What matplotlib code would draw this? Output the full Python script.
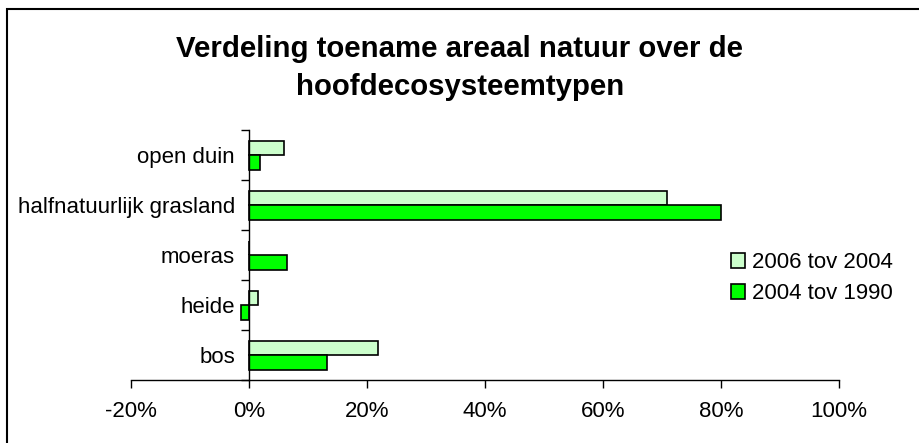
import matplotlib
matplotlib.use("Agg")
import matplotlib.pyplot as plt
from matplotlib.patches import Rectangle
from matplotlib.ticker import FixedLocator, FuncFormatter
import numpy as np

plt.rcParams['font.family'] = ['Liberation Sans', 'DejaVu Sans']

# Ecosystem types, listed bottom to top
categories = ["bos", "heide", "moeras", "halfnatuurlijk grasland", "open duin"]
series_labels = ["2006 tov 2004", "2004 tov 1990"]
# Share of the increase in nature area (fractions)
increase_2006_vs_2004 = [0.219, 0.015, 0.0, 0.709, 0.059]
increase_2004_vs_1990 = [0.133, -0.014, 0.064, 0.800, 0.018]
x_ticks = [-0.2, 0.0, 0.2, 0.4, 0.6, 0.8, 1.0]

fig = plt.figure(figsize=(9.2, 4.43), dpi=100)
ax = fig.add_axes([131 / 920, 1 - 380 / 443, (839 - 131) / 920, (380 - 130) / 443])

y = np.arange(len(categories))
h = 0.29
ax.barh(y + h / 2, increase_2006_vs_2004, height=h, color="#CCFFCC",
        edgecolor="black", linewidth=1.2, label=series_labels[0])
ax.barh(y - h / 2, increase_2004_vs_1990, height=h, color="#00FF00",
        edgecolor="black", linewidth=1.2, label=series_labels[1])

ax.set_xlim(x_ticks[0], x_ticks[-1])
ax.set_ylim(-0.5, len(categories) - 0.5)

# Axes styling
for side in ("top", "right"):
    ax.spines[side].set_visible(False)
ax.spines["left"].set_position(("data", 0))
ax.spines["left"].set_linewidth(1.0)
ax.spines["bottom"].set_linewidth(1.0)

ax.set_xticks(x_ticks)
ax.xaxis.set_major_formatter(FuncFormatter(lambda v, _: f"{v * 100:.0f}%".replace("\u2212", "-")))
ax.tick_params(axis="x", direction="out", length=6, width=1, labelsize=16, pad=9)

ax.yaxis.set_major_locator(FixedLocator(np.arange(-0.5, len(categories), 1.0)))
ax.yaxis.set_major_formatter(plt.NullFormatter())
ax.yaxis.set_minor_locator(FixedLocator(y))
ax.set_yticklabels(categories, minor=True)
ax.tick_params(axis="y", which="major", direction="out", length=6, width=1)
ax.tick_params(axis="y", which="minor", length=0, labelsize=16, pad=10)

fig.text(0.5, 1 - 68 / 443, "Verdeling toename areaal natuur over de\nhoofdecosysteemtypen",
         ha="center", va="center", fontsize=21.2, fontweight="bold", linespacing=1.42)

leg = fig.legend(loc="center left", bbox_to_anchor=(731 / 920, 1 - 278 / 443),
                 frameon=False, fontsize=16, handlelength=0.65, handleheight=0.65,
                 handletextpad=0.3, labelspacing=0.45, borderpad=0, borderaxespad=0)

# Chart border
fig.patches.append(Rectangle((7 / 920, -0.05), 1.1, 1 - 9 / 443 + 0.05,
                             transform=fig.transFigure, fill=False,
                             edgecolor="black", linewidth=1.5))

fig.savefig("out.png", dpi=100)
